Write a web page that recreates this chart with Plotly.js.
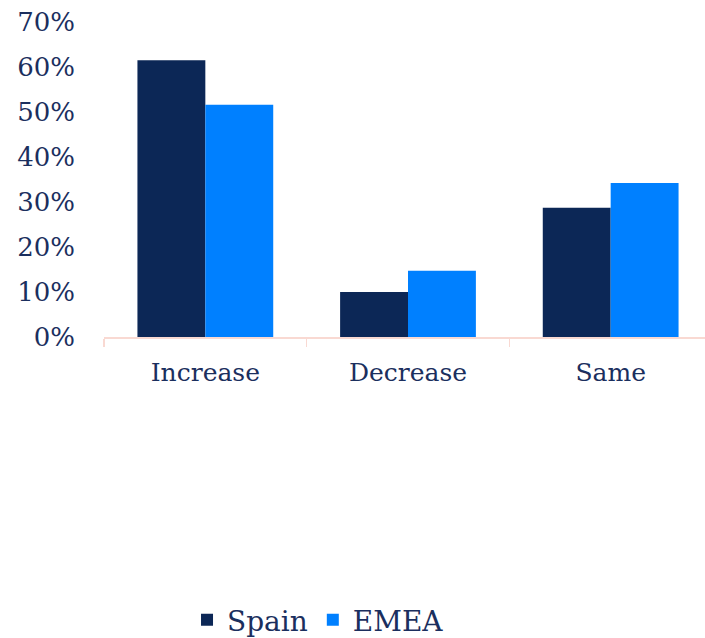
<!DOCTYPE html>
<html><head><meta charset="utf-8">
<script src="https://cdn.plot.ly/plotly-3.0.1.min.js"></script>
<style>html,body{margin:0;padding:0;overflow:hidden;background:#fff}</style>
</head><body><div id="chart"></div>
<script>
const categories = ["Increase", "Decrease", "Same"];
const spain = [0.615, 0.10, 0.287];
const emea = [0.516, 0.147, 0.342];
const seriesNames = ["Spain", "EMEA"];

const textColor = "#1B2F5E";
const fam = "DejaVu Serif, serif";

const traces = [
  {type: "bar", name: seriesNames[0], x: categories, y: spain, marker: {color: "#0C2756"}},
  {type: "bar", name: seriesNames[1], x: categories, y: emea, marker: {color: "#0080FF"}}
];

const layout = {
  width: 712, height: 638,
  margin: {l: 104, r: 0, t: 22, b: 301, autoexpand: false},
  paper_bgcolor: "#fff", plot_bgcolor: "#fff",
  barmode: "group", bargap: 0.33, bargroupgap: 0,
  font: {family: fam, size: 22, color: textColor},
  xaxis: {
    type: "category", showgrid: false, showline: true, linecolor: "#F9D9D2", linewidth: 1.5,
    ticks: "outside", tickson: "boundaries", ticklen: 8, tickcolor: "#F9D9D2", tickwidth: 1.5,
    tickfont: {family: fam, size: 25, color: textColor}, ticklabelstandoff: 12
  },
  yaxis: {
    range: [0, 0.7], dtick: 0.1, tickformat: ".0%", showgrid: false, zeroline: false,
    showline: false, ticks: "", ticklabelstandoff: 28,
    tickfont: {family: fam, size: 26, color: textColor}
  },
  showlegend: true,
  legend: {
    orientation: "h", x: 0.352, xanchor: "center", yref: "container", y: 0.028, yanchor: "middle",
    font: {family: fam, size: 28, color: textColor}, itemwidth: 30, traceorder: "normal"
  }
};
Plotly.newPlot("chart", traces, layout, {displayModeBar: false, staticPlot: true});
</script></body></html>
